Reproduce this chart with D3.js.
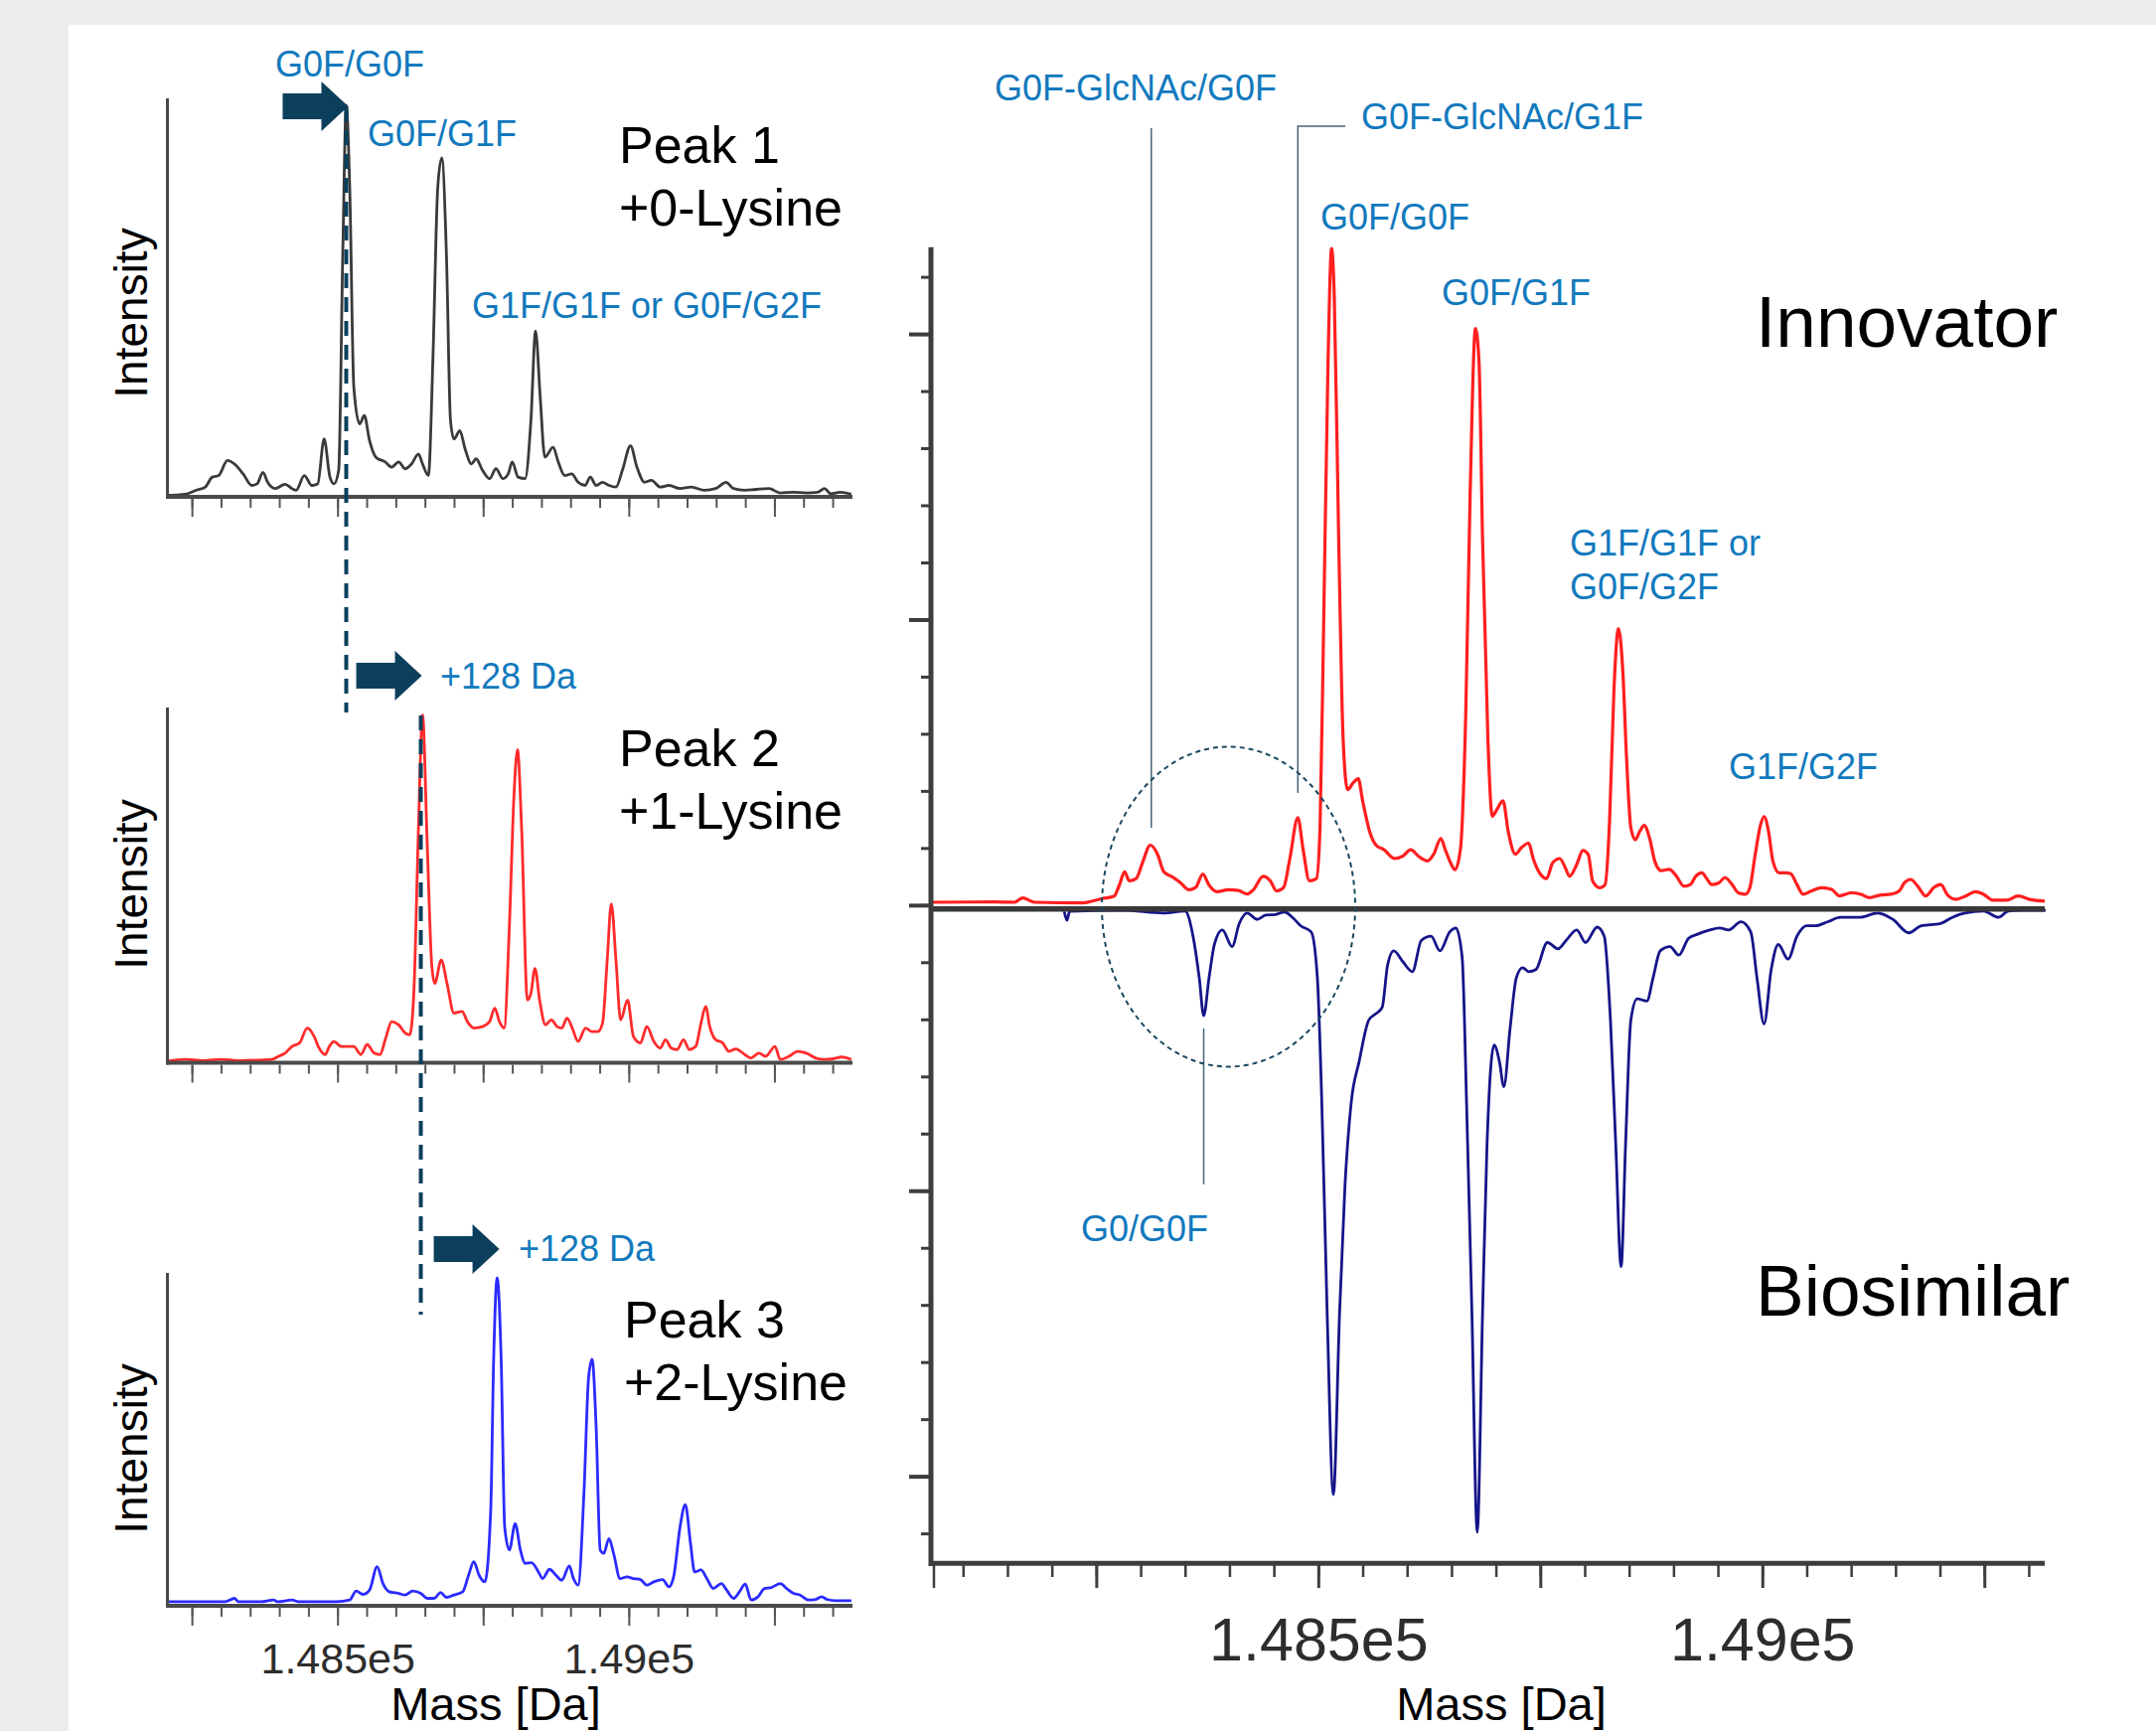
<!DOCTYPE html>
<html>
<head>
<meta charset="utf-8">
<script src="https://cdn.jsdelivr.net/npm/d3@7"></script>
<style>
  body { margin: 0; background: #ececec; }
  svg text { font-family: "Liberation Sans", Arial, sans-serif; }
</style>
</head>
<body>
<div id="vis"></div>
<script>
// ---- data (mass in Da, intensity) ----
// Peak 1, +0-Lysine (relative intensity, % of axis height)
var p1Mass = [148207,148239,148258,148273,148285,148296,148311,148323,148338,148353,
  148362,148372,148380,148393,148410,148422,148429,148443,148456,148466,
  148477,148487,148494,148502,148509,148515,148521,148528,148538,148546,
  148555,148566,148582,148593,148605,148616,148627,148639,148646,148656,
  148664,148672,148679,148687,148694,148700,148710,148719,148730,148738,
  148749,148761,148772,148784,148793,148800,148810,148822,148832,148840,
  148848,148856,148870,148879,148890,148902,148913,148925,148934,148944,
  148955,148966,148978,148989,149003,149014,149027,149039,149054,149069,
  149088,149107,149130,149149,149167,149180,149199,149218,149241,149260,
  149283,149305,149324,149336,149347,149363,149382];
var p1Int = [0,0.3,1.3,2.1,4.6,5.0,8.8,7.9,5.4,2.5,
  2.9,5.8,3.3,1.7,2.8,1.7,1.3,5.0,2.5,2.9,
  14.2,4.6,2.9,6.3,60.6,98.3,77.3,27.2,18.0,20.1,
  13.8,9.6,8.4,7.1,8.4,6.7,7.9,10.4,7.9,5.0,
  35.5,77.3,85.0,60.6,18.8,14.2,16.3,11.7,7.9,9.2,
  6.3,4.2,6.7,4.2,5.4,8.4,4.6,4.2,18.8,41.4,
  24.6,9.6,12.1,8.4,5.0,5.4,3.3,2.5,4.6,2.5,
  3.3,2.5,2.1,6.3,12.5,7.1,3.3,3.8,2.1,2.5,
  1.7,2.1,1.3,1.7,3.3,1.7,1.3,1.5,1.7,0.6,
  0.8,0.6,0.8,1.7,0.4,0.8,0.3];

// Peak 2, +1-Lysine
var p2Mass = [148208,148239,148269,148300,148330,148361,148387,148399,148410,148422,
  148435,148448,148460,148467,148479,148486,148494,148506,148517,148528,
  148540,148551,148563,148573,148582,148593,148605,148616,148624,148631,
  148639,148646,148654,148662,148667,148678,148688,148700,148714,148723,
  148734,148749,148761,148770,148778,148786,148795,148803,148809,148816,
  148826,148832,148839,148847,148857,148867,148877,148885,148894,148903,
  148913,148926,148936,148947,148955,148963,148970,148978,148986,148998,
  149008,149020,149031,149043,149054,149063,149073,149083,149094,149104,
  149115,149124,149132,149139,149149,149161,149172,149184,149199,149210,
  149223,149235,149251,149260,149275,149290,149305,149321,149336,149351,
  149366,149382];
var p2Int = [0,0.5,0.2,0.5,0.2,0.3,0.5,1.4,2.3,4.2,
  5.2,9.4,7.0,4.2,1.9,4.2,5.6,4.2,4.2,4.2,
  1.9,4.7,2.3,1.9,6.1,11.2,10.3,8.0,7.5,19.2,
  66.1,97.9,61.4,26.7,22.0,28.6,22.0,13.6,14.1,11.2,
  9.4,9.8,11.2,15.0,11.2,9.4,38.0,75.4,88.1,66.1,
  17.3,19.2,26.2,17.3,10.3,11.7,9.8,9.4,12.2,9.4,
  5.6,9.4,8.4,8.4,10.8,28.6,44.5,28.6,11.7,17.3,
  7.0,5.2,9.8,5.6,3.7,6.1,3.7,3.3,6.1,3.3,
  4.2,10.8,15.5,9.8,6.1,5.2,2.8,3.5,1.9,0.9,
  2.3,1.4,4.2,0.5,1.4,2.8,2.3,0.9,0.5,0.7,
  1.2,0.5];

// Peak 3, +2-Lysine
var p3Mass = [148208,148254,148307,148323,148330,148368,148390,148397,148422,148433,
  148467,148498,148521,148532,148544,148555,148568,148578,148589,148605,
  148616,148629,148643,148654,148666,148677,148687,148700,148715,148725,
  148734,148743,148753,148763,148768,148774,148781,148787,148795,148805,
  148814,148822,148833,148845,148852,148864,148875,148885,148898,148905,
  148913,148923,148931,148937,148944,148951,148957,148966,148974,148985,
  148997,149008,149020,149031,149043,149058,149069,149077,149088,149097,
  149106,149113,149124,149134,149145,149159,149168,149180,149190,149200,
  149210,149222,149233,149245,149260,149271,149283,149294,149309,149321,
  149331,149340,149355,149382];
var p3Int = [0.5,0.5,0.5,1.5,0.5,0.5,1.0,0.5,1.0,0.5,
  0.5,0.5,1.0,3.7,2.7,4.0,11.1,6.0,3.5,3.0,
  2.5,3.7,3.0,1.5,1.5,3.3,1.8,2.5,3.5,8.5,
  12.6,8.5,6.5,28.1,73.4,98.5,73.4,23.1,16.1,24.1,
  16.1,12.1,12.3,9.5,7.5,10.3,8.5,7.0,11.3,7.5,
  5.5,33.2,68.3,73.9,53.3,16.1,15.1,19.6,15.1,7.5,
  8.0,7.5,7.2,5.5,6.5,7.2,5.0,8.0,23.1,29.9,
  18.1,9.5,10.1,7.5,4.5,6.0,4.0,1.5,3.5,5.8,
  1.0,2.0,4.5,4.8,6.0,4.5,3.0,2.5,1.0,1.2,
  2.0,1.2,0.8,0.8];

// Innovator (mirror plot, upward)
var innovMass = [148066,148134,148158,148167,148181,148235,148257,148270,148276,148282,
  148287,148295,148302,148311,148319,148326,148336,148345,148354,148362,
  148370,148377,148386,148399,148410,148420,148427,148438,148446,148453,
  148461,148468,148477,148483,148490,148498,148502,148506,148511,148515,
  148518,148523,148528,148533,148539,148545,148550,148558,148565,148574,
  148586,148595,148604,148613,148623,148630,148638,148643,148649,148654,
  148660,148666,148671,148677,148681,148685,148691,148696,148701,148708,
  148714,148722,148729,148737,148742,148750,148757,148764,148772,148778,
  148783,148791,148798,148804,148809,148817,148823,148828,148833,148838,
  148843,148847,148852,148857,148862,148867,148873,148879,148886,148895,
  148902,148912,148919,148925,148932,148938,148943,148951,148958,148966,
  148973,148981,148986,148992,148998,149002,149007,149012,149019,149026,
  149032,149039,149046,149055,149067,149078,149087,149100,149111,149121,
  149132,149145,149154,149160,149167,149175,149184,149193,149201,149208,
  149218,149229,149240,149249,149260,149275,149288,149301,149318];
var innovInt = [0.010,0.011,0.010,0.025,0.010,0.008,0.023,0.031,0.070,0.117,
  0.085,0.093,0.148,0.210,0.178,0.117,0.098,0.078,0.054,0.062,
  0.109,0.070,0.047,0.054,0.051,0.039,0.054,0.101,0.085,0.050,
  0.062,0.163,0.306,0.194,0.085,0.093,0.272,0.971,1.903,2.299,
  2.136,1.281,0.582,0.404,0.427,0.443,0.365,0.256,0.210,0.194,
  0.163,0.171,0.194,0.171,0.155,0.178,0.233,0.194,0.148,0.124,
  0.194,0.660,1.437,2.019,1.903,1.281,0.582,0.311,0.334,0.365,
  0.256,0.178,0.202,0.217,0.163,0.109,0.093,0.148,0.163,0.132,
  0.101,0.142,0.191,0.177,0.084,0.061,0.072,0.293,0.757,0.968,
  0.815,0.525,0.270,0.229,0.258,0.279,0.235,0.153,0.121,0.125,
  0.107,0.066,0.072,0.101,0.113,0.090,0.072,0.078,0.096,0.072,
  0.043,0.038,0.061,0.177,0.281,0.310,0.258,0.153,0.113,0.113,
  0.110,0.072,0.038,0.049,0.061,0.055,0.032,0.043,0.038,0.026,
  0.035,0.038,0.049,0.078,0.090,0.066,0.032,0.061,0.072,0.038,
  0.020,0.032,0.047,0.038,0.017,0.017,0.032,0.020,0.014];

// Biosimilar (mirror plot, downward)
var biosimMass = [148214,148217,148220,148280,148326,148350,148359,148366,148371,148377,
  148383,148392,148403,148411,148420,148431,148441,148452,148462,148471,
  148480,148492,148499,148504,148510,148517,148524,148530,148537,148546,
  148557,148565,148572,148578,148585,148595,148606,148616,148627,148637,
  148648,148655,148662,148667,148673,148679,148685,148690,148698,148704,
  148709,148716,148723,148730,148737,148745,148758,148770,148779,148791,
  148801,148814,148822,148829,148835,148841,148846,148852,148859,148870,
  148877,148885,148896,148906,148917,148927,148941,148952,148962,148976,
  148987,148994,149002,149010,149018,149029,149039,149050,149060,149074,
  149088,149109,149130,149147,149165,149179,149200,149214,149228,149249,
  149266,149277,149298,149319];
var biosimInt = [-0.022,-0.053,-0.022,-0.018,-0.028,-0.021,-0.109,-0.255,-0.387,-0.255,
  -0.138,-0.087,-0.145,-0.065,-0.028,-0.050,-0.035,-0.033,-0.024,-0.043,
  -0.072,-0.094,-0.255,-0.694,-1.427,-2.064,-1.427,-0.987,-0.694,-0.548,
  -0.402,-0.380,-0.358,-0.211,-0.160,-0.197,-0.233,-0.124,-0.109,-0.160,
  -0.094,-0.080,-0.182,-0.694,-1.427,-2.196,-1.427,-0.841,-0.490,-0.548,
  -0.636,-0.431,-0.255,-0.219,-0.233,-0.226,-0.131,-0.153,-0.124,-0.087,
  -0.131,-0.077,-0.109,-0.402,-0.841,-1.266,-0.841,-0.402,-0.328,-0.336,
  -0.255,-0.160,-0.145,-0.175,-0.116,-0.102,-0.087,-0.080,-0.087,-0.058,
  -0.094,-0.255,-0.416,-0.226,-0.138,-0.189,-0.109,-0.072,-0.072,-0.058,
  -0.043,-0.043,-0.028,-0.050,-0.097,-0.072,-0.065,-0.043,-0.028,-0.021,
  -0.043,-0.021,-0.018,-0.018];

// ticks and labels
var majorTicks = [148250, 148500, 148750, 149000, 149250];
var labelTicks = [148500, 149000];
var leftMinorTicks = d3.range(148250, 149351, 50);
var rightMinorTicks = d3.range(148100, 149301, 50);
var yMajorTicks = [-2, -1, 0, 1, 2];
var yMinorTicks = d3.range(-22, 23, 2).map(function(v) { return v / 10; });

var peakNames = ["Peak 1", "Peak 2", "Peak 3"];
var lysineNames = ["+0-Lysine", "+1-Lysine", "+2-Lysine"];
var g0fMass = 148515;      // G0F/G0F in peak 1
var lysShift = 128;        // Da per lysine

var W = 2170, H = 1742;
var blue = "#1279bd", navy = "#0b3f5c";
var fmtE = function(d) { return (d / 1e5) + "e5"; };

var svg = d3.select("#vis").append("svg")
  .attr("width", W)
  .attr("height", H);

svg.append("rect").attr("width", W).attr("height", H).attr("fill", "#ececec");
svg.append("rect").attr("x", 69).attr("y", 25).attr("width", W - 69).attr("height", H - 25).attr("fill", "#fff");

function trace(g, mass, inten, x, y, color, w) {
  var pts = mass.map(function(m, i) { return [m, inten[i]]; });
  g.append("path")
    .datum(pts)
    .attr("fill", "none")
    .attr("stroke", color)
    .attr("stroke-width", w)
    .attr("stroke-linejoin", "round")
    .attr("d", d3.line()
      .x(function(d) { return x(d[0]); })
      .y(function(d) { return y(d[1]); })
      .curve(d3.curveMonotoneX));
}

function label(g, txt, x, y, size, color, anchor) {
  return g.append("text")
    .attr("x", x).attr("y", y)
    .attr("font-size", size)
    .attr("fill", color)
    .attr("text-anchor", anchor || "start")
    .text(txt);
}

// ---------------- left: three stacked spectra ----------------
var xL = d3.scaleLinear().domain([148208, 149384]).range([168.5, 858]);

var panels = [
  {mass: p1Mass, inten: p1Int, color: "#3a3a3a", top: 99, base: 498.5, axis: 500, mid: 315, ty: 164},
  {mass: p2Mass, inten: p2Int, color: "#ff2b2b", top: 712, base: 1068, axis: 1069.5, mid: 890, ty: 771},
  {mass: p3Mass, inten: p3Int, color: "#2b2bff", top: 1281, base: 1613.5, axis: 1616, mid: 1458, ty: 1346}
];

var left = svg.append("g");

panels.forEach(function(p, i) {
  var y = d3.scaleLinear().domain([0, 100]).range([p.base, p.top]);
  trace(left, p.mass, p.inten, xL, y, p.color, 2.8);

  left.append("line")
    .attr("x1", xL.range()[0]).attr("x2", xL.range()[0])
    .attr("y1", p.top).attr("y2", p.axis + 2)
    .attr("stroke", "#4a4a4a").attr("stroke-width", 3);
  left.append("line")
    .attr("x1", xL.range()[0] - 1).attr("x2", xL.range()[1])
    .attr("y1", p.axis).attr("y2", p.axis)
    .attr("stroke", "#4a4a4a").attr("stroke-width", 4);

  left.append("g")
    .attr("transform", "translate(0," + (p.axis + 2) + ")")
    .call(d3.axisBottom(xL).tickValues(leftMinorTicks).tickSize(9).tickFormat(""))
    .call(function(a) { a.select(".domain").remove(); a.selectAll("line").attr("stroke", "#555").attr("stroke-width", 2); });
  left.append("g")
    .attr("transform", "translate(0," + (p.axis + 2) + ")")
    .call(d3.axisBottom(xL).tickValues(majorTicks).tickSize(18).tickFormat(""))
    .call(function(a) { a.select(".domain").remove(); a.selectAll("line").attr("stroke", "#555").attr("stroke-width", 2); });

  left.append("text")
    .attr("transform", "translate(148," + p.mid + ") rotate(-90)")
    .attr("text-anchor", "middle")
    .attr("font-size", 46)
    .attr("fill", "#000")
    .text("Intensity");

  var tx = i === 2 ? 628 : 623;
  label(left, peakNames[i], tx, p.ty, 52, "#000");
  label(left, lysineNames[i], tx, p.ty + 63, 52, "#000");
});

// tick labels under peak 3
left.append("g")
  .attr("transform", "translate(0,1616)")
  .call(d3.axisBottom(xL).tickValues(labelTicks).tickSize(0).tickPadding(37).tickFormat(fmtE))
  .call(function(a) {
    a.select(".domain").remove();
    a.selectAll("text").attr("font-size", 43).attr("fill", "#2d2d2d").attr("font-family", null);
  });
label(left, "Mass [Da]", 499, 1731, 47, "#000", "middle");

// dashed guide lines and arrows
function arrow(tipX, cy) {
  var pts = [[tipX - 66, cy - 13], [tipX - 27, cy - 13], [tipX - 27, cy - 25], [tipX, cy],
             [tipX - 27, cy + 25], [tipX - 27, cy + 13], [tipX - 66, cy + 13]];
  left.append("polygon").attr("points", pts.join(" ")).attr("fill", navy);
}
left.append("line")
  .attr("x1", xL(g0fMass)).attr("x2", xL(g0fMass)).attr("y1", 107).attr("y2", 717)
  .attr("stroke", navy).attr("stroke-width", 4).attr("stroke-dasharray", "15,9");
left.append("line")
  .attr("x1", xL(g0fMass + lysShift)).attr("x2", xL(g0fMass + lysShift)).attr("y1", 720).attr("y2", 1323)
  .attr("stroke", navy).attr("stroke-width", 4).attr("stroke-dasharray", "15,9");

arrow(xL(g0fMass) + 2, 107);
arrow(xL(g0fMass + lysShift) + 1, 680);
arrow(xL(g0fMass + 2 * lysShift) + 4, 1257);

label(left, "G0F/G0F", 277, 77, 36, blue);
label(left, "G0F/G1F", 370, 147, 36, blue);
label(left, "G1F/G1F or G0F/G2F", 475, 320, 36, blue);
label(left, "+128 Da", 443, 693, 36, blue);
label(left, "+128 Da", 522, 1269, 36, blue);

// ---------------- right: mirror plot ----------------
var xR = d3.scaleLinear().domain([148065, 149318]).range([938, 2058]);
var yR = d3.scaleLinear().domain([-2.305, 2.304]).range([1573.3, 248.7]);
var right = svg.append("g");

trace(right, innovMass, innovInt, xR, yR, "#ff1f1f", 3.2);
trace(right, biosimMass, biosimInt, xR, yR, "#15158a", 2.8);

// zero line
right.append("line")
  .attr("x1", 938).attr("x2", 2058)
  .attr("y1", yR(0) + 4).attr("y2", yR(0) + 4)
  .attr("stroke", "#383838").attr("stroke-width", 5.5);

// axes
right.append("line")
  .attr("x1", 937).attr("x2", 937).attr("y1", 248.7).attr("y2", 1576)
  .attr("stroke", "#3d3d3d").attr("stroke-width", 5);
right.append("line")
  .attr("x1", 935).attr("x2", 2058).attr("y1", 1573.3).attr("y2", 1573.3)
  .attr("stroke", "#3d3d3d").attr("stroke-width", 5);

right.append("g")
  .attr("transform", "translate(935,0)")
  .call(d3.axisLeft(yR).tickValues(yMinorTicks).tickSize(8).tickFormat(""))
  .call(function(a) { a.select(".domain").remove(); a.selectAll("line").attr("stroke", "#3d3d3d").attr("stroke-width", 3); });
right.append("g")
  .attr("transform", "translate(935,0)")
  .call(d3.axisLeft(yR).tickValues(yMajorTicks).tickSize(20).tickFormat(""))
  .call(function(a) { a.select(".domain").remove(); a.selectAll("line").attr("stroke", "#3d3d3d").attr("stroke-width", 4); });

right.append("g")
  .attr("transform", "translate(0,1575)")
  .call(d3.axisBottom(xR).tickValues(rightMinorTicks).tickSize(12).tickFormat(""))
  .call(function(a) { a.select(".domain").remove(); a.selectAll("line").attr("stroke", "#3d3d3d").attr("stroke-width", 2.5); });
right.append("g")
  .attr("transform", "translate(0,1575)")
  .call(d3.axisBottom(xR).tickValues(majorTicks).tickSize(23).tickFormat(""))
  .call(function(a) { a.select(".domain").remove(); a.selectAll("line").attr("stroke", "#3d3d3d").attr("stroke-width", 3); });
right.append("line")
  .attr("x1", 940).attr("x2", 940).attr("y1", 1575).attr("y2", 1598)
  .attr("stroke", "#3d3d3d").attr("stroke-width", 2.5);

right.append("g")
  .attr("transform", "translate(0,1573.3)")
  .call(d3.axisBottom(xR).tickValues(labelTicks).tickSize(0).tickPadding(54).tickFormat(fmtE))
  .call(function(a) {
    a.select(".domain").remove();
    a.selectAll("text").attr("font-size", 61).attr("fill", "#2d2d2d").attr("font-family", null);
  });
label(right, "Mass [Da]", 1511, 1731, 47, "#000", "middle");

// leader lines
var lead = "#45657a";
right.append("line").attr("x1", xR(148312)).attr("x2", xR(148312)).attr("y1", 129).attr("y2", 833)
  .attr("stroke", lead).attr("stroke-width", 1.5);
right.append("path")
  .attr("d", "M" + xR(148477) + ",798 V127 H1354")
  .attr("fill", "none").attr("stroke", lead).attr("stroke-width", 1.5);
right.append("line").attr("x1", xR(148371)).attr("x2", xR(148371)).attr("y1", 1035).attr("y2", 1192)
  .attr("stroke", lead).attr("stroke-width", 1.5);

// dashed ellipse
right.append("ellipse")
  .attr("cx", xR(148399)).attr("cy", 912.5)
  .attr("rx", 127.5).attr("ry", 161)
  .attr("fill", "none").attr("stroke", "#1b4860").attr("stroke-width", 2)
  .attr("stroke-dasharray", "5,4");

label(right, "G0F-GlcNAc/G0F", 1001, 101, 36, blue);
label(right, "G0F-GlcNAc/G1F", 1370, 130, 36, blue);
label(right, "G0F/G0F", 1329, 231, 36, blue);
label(right, "G0F/G1F", 1451, 307, 36, blue);
label(right, "G1F/G1F or", 1580, 559, 36, blue);
label(right, "G0F/G2F", 1580, 603, 36, blue);
label(right, "G1F/G2F", 1740, 784, 36, blue);
label(right, "G0/G0F", 1088, 1249, 36, blue);

label(right, "Innovator", 1767, 349, 73, "#000");
label(right, "Biosimilar", 1767, 1324, 73, "#000");
</script>
</body>
</html>
